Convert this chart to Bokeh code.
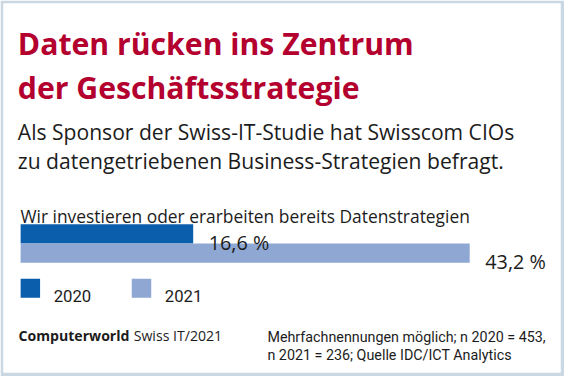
from bokeh.plotting import figure
from bokeh.models import Range1d, ColumnDataSource
from bokeh.core.properties import value
from bokeh.embed import file_html
from bokeh.resources import INLINE

# ---- data ----
title_lines = ["Daten rücken ins Zentrum", "der Geschäftsstrategie"]
subtitle_lines = ["Als Sponsor der Swiss-IT-Studie hat Swisscom CIOs",
                  "zu datengetriebenen Business-Strategien befragt."]
question = "Wir investieren oder erarbeiten bereits Datenstrategien"
years = ["2020", "2021"]
shares = [16.6, 43.2]
brand = "Computerworld"
brand_rest = "Swiss IT/2021"
note_lines = ["Mehrfachnennungen möglich; n 2020 = 453,",
              "n 2021 = 236; Quelle IDC/ICT Analytics"]

# ---- style / layout ----
RED = "#b3002f"
DARK = "#1c1c1c"
BAR_COLORS = ["#0a5eab", "#8ea7d3"]
FRAME = "#c9d8e3"

W, H = 564, 376
SX, SY = W / 580, H / 392          # reference-layout -> figure scale
FS = (SX + SY) / 2
BL, BT, BR, BB = 3, 3, 4, 4


def X(rx):
    return rx * SX


def Y(ry):
    return -ry * SY


def fs(px):
    return f"{px * FS:.1f}px"


PX_PER_PCT = 10.69 * SX
ZERO_X = X(20.7)
FX0, FX1 = BL, W - BR
FY0, FY1 = BT, H - BB

p = figure(width=W, height=H, output_backend="svg", toolbar_location=None,
           x_range=Range1d((FX0 - ZERO_X) / PX_PER_PCT, (FX1 - ZERO_X) / PX_PER_PCT),
           y_range=Range1d(-FY1, -FY0),
           x_axis_type=None, y_axis_type=None,
           min_border_left=BL, min_border_right=BR, min_border_top=BT, min_border_bottom=BB)
p.extra_x_ranges = {"px": Range1d(FX0, FX1)}
p.border_fill_color = FRAME
p.background_fill_color = "white"
p.outline_line_color = None
p.grid.visible = False


def txt(rx, ry, s, size, font="Open Sans", style="normal", color=DARK):
    p.text(x=[X(rx)], y=[Y(ry)], text=[s], x_range_name="px",
           text_font=value(font), text_font_size=fs(size), text_font_style=style,
           text_color=color, text_baseline="alphabetic", text_align="left")


# title
for i, line in enumerate(title_lines):
    txt(17.8, 45 + i * 45.7, line, 31.3, style="bold", color=RED)
# subtitle
for i, line in enumerate(subtitle_lines):
    txt(17.8, 136.7 + i * 30, line, 21.8)
# question
txt(20.5, 225, question, 18)

# bars
bar_top = 233.3
bar_h = 20
src = ColumnDataSource(dict(
    y=[Y(bar_top + bar_h * (i + 0.5)) for i in range(len(years))],
    right=shares,
    color=BAR_COLORS,
    label=[f"{v:.1f}".replace(".", ",") + " %" for v in shares],
    ly=[Y(bar_top + bar_h * (i + 1) - 1.5) for i in range(len(years))],
))
p.hbar(y="y", left=0, right="right", height=bar_h * SY, color="color",
       line_color=None, source=src)
p.text(x="right", y="ly", text="label", source=src, x_offset=16 * SX,
       text_font=value("Open Sans"), text_font_size=fs(20.5), text_color=DARK,
       text_baseline="alphabetic", text_align="left")

# legend
for i, yr in enumerate(years):
    x0 = 20.7 + i * 114.3
    p.quad(left=[X(x0)], right=[X(x0 + 20)], top=[Y(290)], bottom=[Y(310)],
           x_range_name="px", color=BAR_COLORS[i], line_color=None)
    txt(x0 + 34, 308.3, yr, 17.3, font="Roboto")

# footer
txt(18.5, 349.3, brand, 14.6, style="bold")
txt(137, 349.3, brand_rest, 14.6)
for i, line in enumerate(note_lines):
    txt(274.5, 351 + i * 18.3, line, 14.8, font="Roboto")

open("out.html", "w").write(file_html(p, INLINE))
